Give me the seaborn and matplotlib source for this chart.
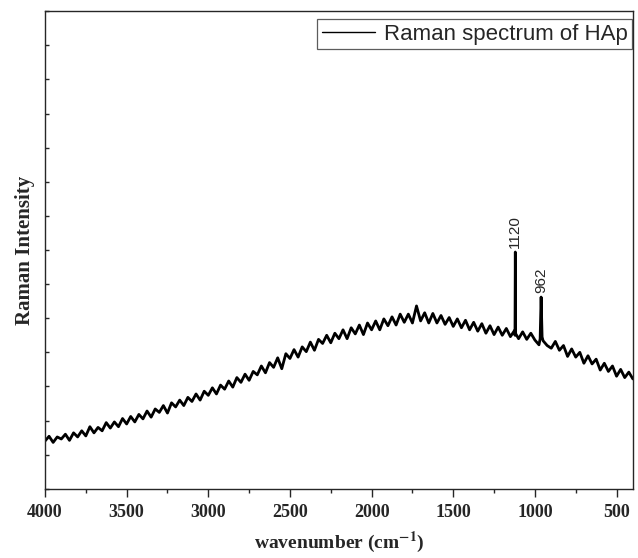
import matplotlib
matplotlib.use("Agg")
import matplotlib.pyplot as plt
import seaborn as sns
import numpy as np
import pandas as pd

# wavenumber grid (cm^-1), 4000 down to 400 in steps of 25
wavenumber = list(range(4000, 399, -25))
intensity = [
    1.40, 1.54, 1.36, 1.52,  1.46, 1.60, 1.42, 1.64,
    1.52, 1.70, 1.55, 1.82,  1.64, 1.80, 1.70, 1.94,
    1.78, 1.96, 1.82, 2.06,  1.90, 2.12, 1.96, 2.18,
    2.05, 2.28, 2.10, 2.34,  2.24, 2.44, 2.22, 2.52,
    2.40, 2.60, 2.44, 2.68,  2.56, 2.78, 2.60, 2.86,
    2.74, 2.96, 2.78, 3.04,  2.92, 3.16, 2.98, 3.26,
    3.12, 3.36, 3.18, 3.44,  3.34, 3.60, 3.40, 3.70,
    3.56, 3.84, 3.52, 3.96,  3.82, 4.08, 3.86, 4.16,
    4.02, 4.30, 4.06, 4.38,  4.26, 4.50, 4.28, 4.56,
    4.40, 4.66, 4.40, 4.72,  4.54, 4.80, 4.52, 4.86,
    4.66, 4.92, 4.66, 4.98,  4.78, 5.04, 4.80, 5.12,
    4.88, 5.12, 4.86, 5.36,  4.92, 5.16, 4.86, 5.14,
    4.86, 5.08, 4.82, 5.02,  4.76, 4.98, 4.72, 4.94,
    4.66, 4.88, 4.62, 4.84,  4.56, 4.78, 4.52, 4.74,
    4.50, 4.70, 4.46, 4.64,  4.40, 4.60, 4.38, 4.56,
    4.36, 4.22, 4.34, 4.20,  4.12, 4.32, 4.06, 4.20,
    3.88, 4.10, 3.86, 4.00,  3.68, 3.90, 3.66, 3.80,
    3.48, 3.68, 3.44, 3.60,  3.30, 3.50, 3.26, 3.42,
    3.22,
]

# sharp bands
peak_x = [1122, 1120, 1118, 968, 962, 956]
peak_y = [4.50, 6.94, 4.55, 4.40, 5.62, 4.45]

df = pd.DataFrame({"wavenumber": wavenumber + peak_x,
                   "intensity": intensity + peak_y}).sort_values("wavenumber")

sns.set_style("ticks")
plt.rcParams["mathtext.fontset"] = "stix"
fig, ax = plt.subplots(figsize=(6.38, 5.58), dpi=100)
fig.subplots_adjust(left=0.0705, right=0.992, top=0.980, bottom=0.124)

sns.lineplot(data=df, x="wavenumber", y="intensity", ax=ax, color="black",
             linewidth=2.0, estimator=None, label="Raman spectrum of HAp")

ax.set_xlim(4000, 400)
ax.set_ylim(0, 14)
ax.set_xticks([4000, 3500, 3000, 2500, 2000, 1500, 1000, 500])
ax.set_xticks(np.arange(3750, 400, -500), minor=True)
ax.set_yticks(np.arange(0, 15, 1))
ax.set_yticklabels([])
ax.tick_params(axis="x", direction="out", length=6, width=1, labelsize=13, pad=5)
ax.tick_params(axis="x", which="minor", direction="out", length=3, width=1)
ax.tick_params(axis="y", direction="in", length=3, width=1)
for lab in ax.get_xticklabels():
    lab.set_family("Liberation Serif")
    lab.set_fontweight("bold")
for s in ax.spines.values():
    s.set_visible(True)
    s.set_linewidth(1.0)

ax.set_xlabel("wavenumber (cm$^{\\mathbf{-1}}$)", family="Liberation Serif",
              fontweight="bold", fontsize=14, labelpad=6)
ax.set_ylabel("Raman Intensity", family="Liberation Serif",
              fontweight="bold", fontsize=15, labelpad=4)

ax.text(1120, 7.05, "1120", rotation=90, ha="center", va="bottom",
        family="Liberation Sans", fontsize=11)
ax.text(962, 5.75, "962", rotation=90, ha="center", va="bottom",
        family="Liberation Sans", fontsize=11)

leg = ax.legend(loc="upper right", bbox_to_anchor=(0.999, 0.983),
                borderaxespad=0, frameon=True, fancybox=False,
                prop={"family": "Liberation Sans", "size": 16},
                handlelength=2.4, borderpad=0.2, handletextpad=0.4)
leg.get_frame().set_edgecolor("#333333")
leg.get_frame().set_linewidth(0.9)
leg.get_lines()[0].set_linewidth(1.0)

fig.savefig("out.png", dpi=100)
